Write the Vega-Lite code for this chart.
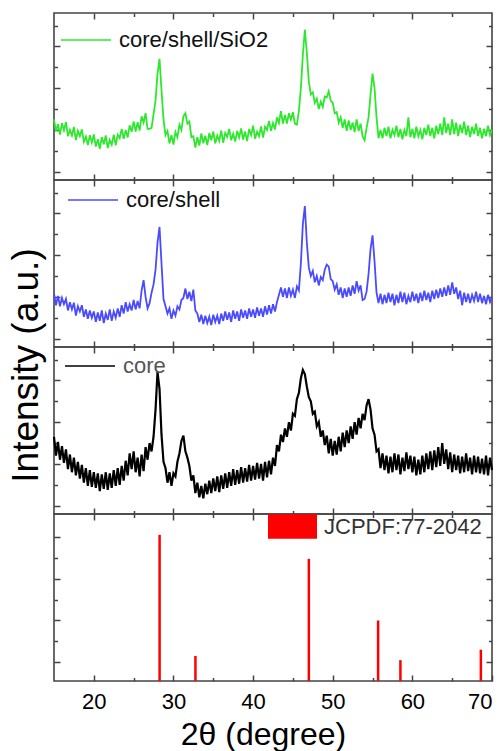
{
"$schema": "https://vega.github.io/schema/vega-lite/v6.json",
"padding": {"left": 6, "top": 11, "right": 0, "bottom": 0},
"spacing": 0,
"bounds": "flush",
"datasets": {
"green": [{"t":15,"i":2.5},{"t":15.25,"i":1.93},{"t":15.5,"i":2.27},{"t":15.75,"i":1.77},{"t":16,"i":2.32},{"t":16.25,"i":1.98},{"t":16.5,"i":2.37},{"t":16.75,"i":1.7},{"t":17,"i":2.0},{"t":17.25,"i":1.73},{"t":17.5,"i":2.14},{"t":17.75,"i":1.51},{"t":18,"i":1.95},{"t":18.25,"i":1.7},{"t":18.5,"i":2.03},{"t":18.75,"i":1.43},{"t":19,"i":1.68},{"t":19.25,"i":1.27},{"t":19.5,"i":1.75},{"t":19.75,"i":1.4},{"t":20,"i":1.78},{"t":20.25,"i":1.2},{"t":20.5,"i":1.55},{"t":20.75,"i":1.09},{"t":21,"i":1.65},{"t":21.25,"i":1.31},{"t":21.5,"i":1.74},{"t":21.75,"i":1.13},{"t":22,"i":1.52},{"t":22.25,"i":1.29},{"t":22.5,"i":1.77},{"t":22.75,"i":1.26},{"t":23,"i":1.77},{"t":23.25,"i":1.61},{"t":23.5,"i":2.05},{"t":23.75,"i":1.57},{"t":24,"i":2.0},{"t":24.25,"i":1.63},{"t":24.5,"i":2.22},{"t":24.75,"i":1.91},{"t":25,"i":2.4},{"t":25.25,"i":1.92},{"t":25.5,"i":2.37},{"t":25.75,"i":1.97},{"t":26,"i":2.65},{"t":26.25,"i":2.35},{"t":26.5,"i":2.8},{"t":26.75,"i":2.05},{"t":27,"i":2.05},{"t":27.25,"i":2.1},{"t":27.5,"i":2.75},{"t":27.75,"i":3.4},{"t":28,"i":4.7},{"t":28.25,"i":5.4},{"t":28.5,"i":3.9},{"t":28.75,"i":2.5},{"t":29,"i":1.75},{"t":29.25,"i":1.95},{"t":29.5,"i":1.35},{"t":29.75,"i":1.75},{"t":30,"i":1.3},{"t":30.25,"i":1.9},{"t":30.5,"i":1.65},{"t":30.75,"i":2.25},{"t":31,"i":2.0},{"t":31.25,"i":2.65},{"t":31.5,"i":2.8},{"t":31.75,"i":2.3},{"t":32,"i":2.4},{"t":32.25,"i":1.65},{"t":32.5,"i":1.7},{"t":32.75,"i":1.15},{"t":33,"i":1.65},{"t":33.25,"i":1.25},{"t":33.5,"i":1.83},{"t":33.75,"i":1.36},{"t":34,"i":1.72},{"t":34.25,"i":1.27},{"t":34.5,"i":1.85},{"t":34.75,"i":1.5},{"t":35,"i":1.92},{"t":35.25,"i":1.35},{"t":35.5,"i":1.73},{"t":35.75,"i":1.47},{"t":36,"i":1.97},{"t":36.25,"i":1.38},{"t":36.5,"i":1.85},{"t":36.75,"i":1.66},{"t":37,"i":2.05},{"t":37.25,"i":1.5},{"t":37.5,"i":1.81},{"t":37.75,"i":1.44},{"t":38,"i":1.95},{"t":38.25,"i":1.64},{"t":38.5,"i":2.07},{"t":38.75,"i":1.53},{"t":39,"i":1.92},{"t":39.25,"i":1.46},{"t":39.5,"i":2.04},{"t":39.75,"i":1.75},{"t":40,"i":2.2},{"t":40.25,"i":1.58},{"t":40.5,"i":1.92},{"t":40.75,"i":1.7},{"t":41,"i":2.17},{"t":41.25,"i":1.63},{"t":41.5,"i":2.15},{"t":41.75,"i":2.0},{"t":42,"i":2.43},{"t":42.25,"i":1.96},{"t":42.5,"i":2.33},{"t":42.75,"i":2.02},{"t":43,"i":2.6},{"t":43.25,"i":2.33},{"t":43.5,"i":2.9},{"t":43.75,"i":2.3},{"t":44,"i":2.72},{"t":44.25,"i":2.3},{"t":44.5,"i":2.8},{"t":44.75,"i":2.5},{"t":45,"i":2.85},{"t":45.25,"i":2.3},{"t":45.5,"i":2.25},{"t":45.75,"i":2.9},{"t":46,"i":4.0},{"t":46.25,"i":5.6},{"t":46.5,"i":6.8},{"t":46.75,"i":5.7},{"t":47,"i":4.3},{"t":47.25,"i":3.7},{"t":47.5,"i":3.8},{"t":47.75,"i":3.3},{"t":48,"i":3.5},{"t":48.25,"i":3.0},{"t":48.5,"i":3.35},{"t":48.75,"i":3.1},{"t":49,"i":3.6},{"t":49.25,"i":3.55},{"t":49.5,"i":3.85},{"t":49.75,"i":3.4},{"t":50,"i":3.3},{"t":50.25,"i":2.8},{"t":50.5,"i":2.85},{"t":50.75,"i":2.35},{"t":51,"i":2.6},{"t":51.25,"i":2.1},{"t":51.5,"i":2.5},{"t":51.75,"i":1.95},{"t":52,"i":2.45},{"t":52.25,"i":2.0},{"t":52.5,"i":2.35},{"t":52.75,"i":1.9},{"t":53,"i":2.5},{"t":53.25,"i":1.95},{"t":53.5,"i":2.3},{"t":53.75,"i":1.7},{"t":54,"i":1.5},{"t":54.25,"i":2.1},{"t":54.5,"i":2.6},{"t":54.75,"i":3.7},{"t":55,"i":4.7},{"t":55.25,"i":4.0},{"t":55.5,"i":2.6},{"t":55.75,"i":1.6},{"t":56,"i":2.0},{"t":56.25,"i":1.6},{"t":56.5,"i":2.1},{"t":56.75,"i":1.7},{"t":57,"i":2.15},{"t":57.25,"i":1.6},{"t":57.5,"i":2.0},{"t":57.75,"i":1.75},{"t":58,"i":2.2},{"t":58.25,"i":1.65},{"t":58.5,"i":2.05},{"t":58.75,"i":1.55},{"t":59,"i":2.0},{"t":59.25,"i":1.7},{"t":59.5,"i":2.6},{"t":59.75,"i":1.65},{"t":60,"i":2.05},{"t":60.25,"i":1.6},{"t":60.5,"i":2.15},{"t":60.75,"i":1.7},{"t":61,"i":2.0},{"t":61.25,"i":1.55},{"t":61.5,"i":2.1},{"t":61.75,"i":1.75},{"t":62,"i":2.25},{"t":62.25,"i":1.7},{"t":62.5,"i":2.1},{"t":62.75,"i":1.6},{"t":63,"i":2.2},{"t":63.25,"i":1.8},{"t":63.5,"i":2.3},{"t":63.75,"i":1.75},{"t":64,"i":2.6},{"t":64.25,"i":1.85},{"t":64.5,"i":2.3},{"t":64.75,"i":1.75},{"t":65,"i":2.5},{"t":65.25,"i":1.8},{"t":65.5,"i":2.35},{"t":65.75,"i":1.7},{"t":66,"i":2.25},{"t":66.25,"i":1.85},{"t":66.5,"i":2.4},{"t":66.75,"i":1.75},{"t":67,"i":2.2},{"t":67.25,"i":1.65},{"t":67.5,"i":2.15},{"t":67.75,"i":1.8},{"t":68,"i":2.3},{"t":68.25,"i":1.7},{"t":68.5,"i":2.1},{"t":68.75,"i":1.6},{"t":69,"i":2.05},{"t":69.25,"i":1.7},{"t":69.5,"i":2.2},{"t":69.75,"i":1.75},{"t":70,"i":2.0}],
"blue": [{"t":15,"i":2.15},{"t":15.25,"i":1.6},{"t":15.5,"i":2.05},{"t":15.75,"i":1.55},{"t":16,"i":1.95},{"t":16.25,"i":1.65},{"t":16.5,"i":1.9},{"t":16.75,"i":1.35},{"t":17,"i":1.75},{"t":17.25,"i":1.4},{"t":17.5,"i":1.72},{"t":17.75,"i":1.1},{"t":18,"i":1.55},{"t":18.25,"i":1.3},{"t":18.5,"i":1.6},{"t":18.75,"i":1.05},{"t":19,"i":1.4},{"t":19.25,"i":0.95},{"t":19.5,"i":1.35},{"t":19.75,"i":1.0},{"t":20,"i":1.3},{"t":20.25,"i":0.8},{"t":20.5,"i":1.25},{"t":20.75,"i":0.85},{"t":21,"i":1.35},{"t":21.25,"i":0.75},{"t":21.5,"i":1.2},{"t":21.75,"i":0.9},{"t":22,"i":1.4},{"t":22.25,"i":0.85},{"t":22.5,"i":1.3},{"t":22.75,"i":1.0},{"t":23,"i":1.45},{"t":23.25,"i":1.05},{"t":23.5,"i":1.6},{"t":23.75,"i":1.2},{"t":24,"i":1.75},{"t":24.25,"i":1.3},{"t":24.5,"i":1.65},{"t":24.75,"i":1.35},{"t":25,"i":1.85},{"t":25.25,"i":1.4},{"t":25.5,"i":1.8},{"t":25.75,"i":1.45},{"t":26,"i":2.3},{"t":26.25,"i":2.8},{"t":26.5,"i":2.0},{"t":26.75,"i":1.45},{"t":27,"i":1.7},{"t":27.25,"i":2.2},{"t":27.5,"i":2.6},{"t":27.75,"i":3.3},{"t":28,"i":4.6},{"t":28.25,"i":5.35},{"t":28.5,"i":3.6},{"t":28.75,"i":1.9},{"t":29,"i":1.55},{"t":29.25,"i":1.2},{"t":29.5,"i":1.45},{"t":29.75,"i":0.95},{"t":30,"i":1.35},{"t":30.25,"i":1.1},{"t":30.5,"i":1.55},{"t":30.75,"i":1.4},{"t":31,"i":1.85},{"t":31.25,"i":1.95},{"t":31.5,"i":2.4},{"t":31.75,"i":1.9},{"t":32,"i":2.25},{"t":32.25,"i":1.8},{"t":32.5,"i":2.35},{"t":32.75,"i":1.35},{"t":33,"i":1.2},{"t":33.25,"i":0.8},{"t":33.5,"i":1.15},{"t":33.75,"i":0.7},{"t":34,"i":1.1},{"t":34.25,"i":0.75},{"t":34.5,"i":1.05},{"t":34.75,"i":0.65},{"t":35,"i":1.15},{"t":35.25,"i":0.8},{"t":35.5,"i":1.1},{"t":35.75,"i":0.7},{"t":36,"i":1.2},{"t":36.25,"i":0.85},{"t":36.5,"i":1.3},{"t":36.75,"i":0.9},{"t":37,"i":1.25},{"t":37.25,"i":0.8},{"t":37.5,"i":1.35},{"t":37.75,"i":0.95},{"t":38,"i":1.3},{"t":38.25,"i":0.85},{"t":38.5,"i":1.4},{"t":38.75,"i":1.0},{"t":39,"i":1.35},{"t":39.25,"i":0.95},{"t":39.5,"i":1.45},{"t":39.75,"i":1.05},{"t":40,"i":1.4},{"t":40.25,"i":1.0},{"t":40.5,"i":1.5},{"t":40.75,"i":1.1},{"t":41,"i":1.45},{"t":41.25,"i":1.05},{"t":41.5,"i":1.55},{"t":41.75,"i":1.15},{"t":42,"i":1.6},{"t":42.25,"i":1.2},{"t":42.5,"i":1.65},{"t":42.75,"i":1.3},{"t":43,"i":1.75},{"t":43.25,"i":2.1},{"t":43.5,"i":2.45},{"t":43.75,"i":2.0},{"t":44,"i":2.4},{"t":44.25,"i":1.95},{"t":44.5,"i":2.45},{"t":44.75,"i":2.05},{"t":45,"i":2.35},{"t":45.25,"i":1.95},{"t":45.5,"i":2.5},{"t":45.75,"i":2.3},{"t":46,"i":3.6},{"t":46.25,"i":5.5},{"t":46.5,"i":6.35},{"t":46.75,"i":4.6},{"t":47,"i":3.4},{"t":47.25,"i":3.0},{"t":47.5,"i":3.25},{"t":47.75,"i":2.7},{"t":48,"i":3.0},{"t":48.25,"i":2.55},{"t":48.5,"i":2.95},{"t":48.75,"i":2.8},{"t":49,"i":3.3},{"t":49.25,"i":3.55},{"t":49.5,"i":3.45},{"t":49.75,"i":2.85},{"t":50,"i":2.75},{"t":50.25,"i":2.35},{"t":50.5,"i":2.6},{"t":50.75,"i":2.1},{"t":51,"i":2.45},{"t":51.25,"i":1.95},{"t":51.5,"i":2.4},{"t":51.75,"i":2.0},{"t":52,"i":2.45},{"t":52.25,"i":2.05},{"t":52.5,"i":2.55},{"t":52.75,"i":2.15},{"t":53,"i":2.75},{"t":53.25,"i":2.3},{"t":53.5,"i":2.55},{"t":53.75,"i":1.85},{"t":54,"i":1.9},{"t":54.25,"i":2.25},{"t":54.5,"i":3.1},{"t":54.75,"i":4.3},{"t":55,"i":4.95},{"t":55.25,"i":3.7},{"t":55.5,"i":2.2},{"t":55.75,"i":1.7},{"t":56,"i":2.15},{"t":56.25,"i":1.65},{"t":56.5,"i":2.1},{"t":56.75,"i":1.7},{"t":57,"i":2.2},{"t":57.25,"i":1.75},{"t":57.5,"i":2.15},{"t":57.75,"i":1.6},{"t":58,"i":2.1},{"t":58.25,"i":1.7},{"t":58.5,"i":2.25},{"t":58.75,"i":1.75},{"t":59,"i":2.2},{"t":59.25,"i":1.65},{"t":59.5,"i":2.05},{"t":59.75,"i":1.75},{"t":60,"i":2.25},{"t":60.25,"i":1.8},{"t":60.5,"i":2.15},{"t":60.75,"i":1.7},{"t":61,"i":2.2},{"t":61.25,"i":1.8},{"t":61.5,"i":2.3},{"t":61.75,"i":1.85},{"t":62,"i":2.2},{"t":62.25,"i":1.75},{"t":62.5,"i":2.3},{"t":62.75,"i":1.9},{"t":63,"i":2.35},{"t":63.25,"i":1.95},{"t":63.5,"i":2.4},{"t":63.75,"i":2.0},{"t":64,"i":2.45},{"t":64.25,"i":2.05},{"t":64.5,"i":2.55},{"t":64.75,"i":2.1},{"t":65,"i":2.7},{"t":65.25,"i":2.15},{"t":65.5,"i":2.45},{"t":65.75,"i":1.9},{"t":66,"i":2.3},{"t":66.25,"i":1.6},{"t":66.5,"i":2.2},{"t":66.75,"i":1.75},{"t":67,"i":2.15},{"t":67.25,"i":1.7},{"t":67.5,"i":2.1},{"t":67.75,"i":1.8},{"t":68,"i":2.25},{"t":68.25,"i":1.75},{"t":68.5,"i":2.15},{"t":68.75,"i":1.7},{"t":69,"i":2.05},{"t":69.25,"i":1.65},{"t":69.5,"i":2.1},{"t":69.75,"i":1.75},{"t":70,"i":2.0}],
"black": [{"t":15,"i":3.3},{"t":15.25,"i":2.4},{"t":15.5,"i":3.05},{"t":15.75,"i":2.2},{"t":16,"i":2.85},{"t":16.25,"i":2.05},{"t":16.5,"i":2.7},{"t":16.75,"i":1.75},{"t":17,"i":2.45},{"t":17.25,"i":1.6},{"t":17.5,"i":2.3},{"t":17.75,"i":1.45},{"t":18,"i":2.1},{"t":18.25,"i":1.3},{"t":18.5,"i":1.95},{"t":18.75,"i":1.1},{"t":19,"i":1.8},{"t":19.25,"i":0.95},{"t":19.5,"i":1.7},{"t":19.75,"i":0.9},{"t":20,"i":1.6},{"t":20.25,"i":0.85},{"t":20.5,"i":1.55},{"t":20.75,"i":0.7},{"t":21,"i":1.5},{"t":21.25,"i":0.8},{"t":21.5,"i":1.6},{"t":21.75,"i":0.75},{"t":22,"i":1.55},{"t":22.25,"i":0.85},{"t":22.5,"i":1.7},{"t":22.75,"i":0.95},{"t":23,"i":1.8},{"t":23.25,"i":1.0},{"t":23.5,"i":1.9},{"t":23.75,"i":1.2},{"t":24,"i":2.15},{"t":24.25,"i":1.45},{"t":24.5,"i":2.5},{"t":24.75,"i":1.75},{"t":25,"i":2.6},{"t":25.25,"i":1.6},{"t":25.5,"i":2.3},{"t":25.75,"i":1.4},{"t":26,"i":2.45},{"t":26.25,"i":1.65},{"t":26.5,"i":2.8},{"t":26.75,"i":2.2},{"t":27,"i":3.0},{"t":27.25,"i":2.6},{"t":27.5,"i":3.3},{"t":27.75,"i":4.6},{"t":28,"i":6.4},{"t":28.25,"i":5.6},{"t":28.5,"i":3.4},{"t":28.75,"i":2.1},{"t":29,"i":1.8},{"t":29.25,"i":1.1},{"t":29.5,"i":1.6},{"t":29.75,"i":0.95},{"t":30,"i":1.55},{"t":30.25,"i":1.4},{"t":30.5,"i":2.1},{"t":30.75,"i":2.5},{"t":31,"i":3.1},{"t":31.25,"i":3.35},{"t":31.5,"i":2.6},{"t":31.75,"i":2.3},{"t":32,"i":1.9},{"t":32.25,"i":1.2},{"t":32.5,"i":1.45},{"t":32.75,"i":0.6},{"t":33,"i":1.1},{"t":33.25,"i":0.4},{"t":33.5,"i":0.95},{"t":33.75,"i":0.35},{"t":34,"i":1.05},{"t":34.25,"i":0.55},{"t":34.5,"i":1.2},{"t":34.75,"i":0.6},{"t":35,"i":1.3},{"t":35.25,"i":0.7},{"t":35.5,"i":1.4},{"t":35.75,"i":0.65},{"t":36,"i":1.45},{"t":36.25,"i":0.8},{"t":36.5,"i":1.55},{"t":36.75,"i":0.85},{"t":37,"i":1.6},{"t":37.25,"i":0.95},{"t":37.5,"i":1.75},{"t":37.75,"i":1.0},{"t":38,"i":1.7},{"t":38.25,"i":1.05},{"t":38.5,"i":1.85},{"t":38.75,"i":1.1},{"t":39,"i":1.8},{"t":39.25,"i":1.15},{"t":39.5,"i":1.95},{"t":39.75,"i":1.2},{"t":40,"i":1.9},{"t":40.25,"i":1.25},{"t":40.5,"i":2.05},{"t":40.75,"i":1.3},{"t":41,"i":2.0},{"t":41.25,"i":1.2},{"t":41.5,"i":2.1},{"t":41.75,"i":1.35},{"t":42,"i":2.15},{"t":42.25,"i":1.5},{"t":42.5,"i":2.3},{"t":42.75,"i":1.9},{"t":43,"i":2.9},{"t":43.25,"i":2.6},{"t":43.5,"i":3.4},{"t":43.75,"i":3.05},{"t":44,"i":3.7},{"t":44.25,"i":3.3},{"t":44.5,"i":4.0},{"t":44.75,"i":3.6},{"t":45,"i":4.4},{"t":45.25,"i":4.3},{"t":45.5,"i":5.1},{"t":45.75,"i":5.4},{"t":46,"i":6.1},{"t":46.25,"i":6.5},{"t":46.5,"i":6.3},{"t":46.75,"i":5.7},{"t":47,"i":5.2},{"t":47.25,"i":5.0},{"t":47.5,"i":4.4},{"t":47.75,"i":4.5},{"t":48,"i":3.8},{"t":48.25,"i":4.0},{"t":48.5,"i":3.3},{"t":48.75,"i":3.6},{"t":49,"i":2.9},{"t":49.25,"i":3.35},{"t":49.5,"i":2.5},{"t":49.75,"i":3.2},{"t":50,"i":2.4},{"t":50.25,"i":3.1},{"t":50.5,"i":2.45},{"t":50.75,"i":3.3},{"t":51,"i":2.6},{"t":51.25,"i":3.5},{"t":51.5,"i":2.8},{"t":51.75,"i":3.6},{"t":52,"i":3.0},{"t":52.25,"i":3.8},{"t":52.5,"i":3.2},{"t":52.75,"i":4.0},{"t":53,"i":3.4},{"t":53.25,"i":4.2},{"t":53.5,"i":3.7},{"t":53.75,"i":4.4},{"t":54,"i":4.1},{"t":54.25,"i":4.8},{"t":54.5,"i":5.1},{"t":54.75,"i":4.6},{"t":55,"i":3.7},{"t":55.25,"i":3.4},{"t":55.5,"i":2.6},{"t":55.75,"i":2.7},{"t":56,"i":1.8},{"t":56.25,"i":2.5},{"t":56.5,"i":1.7},{"t":56.75,"i":2.4},{"t":57,"i":1.55},{"t":57.25,"i":2.35},{"t":57.5,"i":1.6},{"t":57.75,"i":2.5},{"t":58,"i":1.7},{"t":58.25,"i":2.45},{"t":58.5,"i":1.5},{"t":58.75,"i":2.3},{"t":59,"i":1.65},{"t":59.25,"i":2.55},{"t":59.5,"i":1.75},{"t":59.75,"i":2.4},{"t":60,"i":1.6},{"t":60.25,"i":2.35},{"t":60.5,"i":1.45},{"t":60.75,"i":2.2},{"t":61,"i":1.5},{"t":61.25,"i":2.4},{"t":61.5,"i":1.6},{"t":61.75,"i":2.5},{"t":62,"i":1.75},{"t":62.25,"i":2.6},{"t":62.5,"i":1.7},{"t":62.75,"i":2.65},{"t":63,"i":1.85},{"t":63.25,"i":2.8},{"t":63.5,"i":1.9},{"t":63.75,"i":3.0},{"t":64,"i":2.0},{"t":64.25,"i":2.7},{"t":64.5,"i":1.75},{"t":64.75,"i":2.55},{"t":65,"i":1.6},{"t":65.25,"i":2.45},{"t":65.5,"i":1.7},{"t":65.75,"i":2.4},{"t":66,"i":1.55},{"t":66.25,"i":2.35},{"t":66.5,"i":1.6},{"t":66.75,"i":2.5},{"t":67,"i":1.65},{"t":67.25,"i":2.3},{"t":67.5,"i":1.5},{"t":67.75,"i":2.4},{"t":68,"i":1.6},{"t":68.25,"i":2.35},{"t":68.5,"i":1.55},{"t":68.75,"i":2.25},{"t":69,"i":1.5},{"t":69.25,"i":2.4},{"t":69.5,"i":1.45},{"t":69.75,"i":2.3},{"t":70,"i":1.7}],
"ref": [{"t":28.26,"i":140},{"t":32.76,"i":24},{"t":47.0,"i":117},{"t":55.7,"i":58},{"t":58.5,"i":20},{"t":68.6,"i":30}]
},
"vconcat": [
{
"width": 438, "height": 167,
"layer": [
{"data": {"name": "green"}, "mark": {"type": "line", "color": "#1ee61e", "strokeWidth": 1.8},
 "encoding": {
  "x": {"field": "t", "type": "quantitative", "scale": {"domain": [15, 70], "nice": false, "zero": false},
        "axis": {"orient": "bottom", "title": null, "labels": false, "values": [20,25,30,35,40,45,50,55,60,65], "tickSize": {"condition": {"test": "datum.value % 10 === 0", "value": -6}, "value": -3.5}}},
  "y": {"field": "i", "type": "quantitative", "scale": {"domain": [-0.4, 7.6], "nice": false, "zero": false},
        "axis": {"orient": "left", "title": null, "labels": false, "values": [0,1,2,3,4,5,6,7], "tickSize": {"condition": {"test": "datum.value % 2 === 0", "value": -6}, "value": -3.5}}},
  "color": {"datum": "core/shell/SiO2", "type": "nominal", "scale": {"range": ["#2ee82e"]}, "legend": {"title": null, "legendX": 6, "legendY": 1}}
 }},
{"data": {"name": "green"}, "mark": {"type": "line", "opacity": 0},
 "encoding": {
  "x": {"field": "t", "type": "quantitative", "scale": {"domain": [15, 70], "nice": false, "zero": false},
        "axis": {"orient": "top", "title": null, "labels": false, "values": [20,25,30,35,40,45,50,55,60,65], "tickSize": {"condition": {"test": "datum.value % 10 === 0", "value": -6}, "value": -3.5}}},
  "y": {"field": "i", "type": "quantitative", "scale": {"domain": [-0.4, 7.6], "nice": false, "zero": false},
        "axis": {"orient": "right", "title": null, "labels": false, "values": [0,1,2,3,4,5,6,7], "tickSize": {"condition": {"test": "datum.value % 2 === 0", "value": -6}, "value": -3.5}}}
 }}
],
"resolve": {"axis": {"x": "independent", "y": "independent"}}
},
{
"width": 438, "height": 167,
"layer": [
{"data": {"name": "blue"}, "mark": {"type": "line", "color": "#1a1aff", "strokeWidth": 1.8},
 "encoding": {
  "x": {"field": "t", "type": "quantitative", "scale": {"domain": [15, 70], "nice": false, "zero": false},
        "axis": {"orient": "bottom", "title": null, "labels": false, "values": [20,25,30,35,40,45,50,55,60,65], "tickSize": {"condition": {"test": "datum.value % 10 === 0", "value": -6}, "value": -3.5}}},
  "y": {"field": "i", "type": "quantitative", "scale": {"domain": [-0.4, 7.6], "nice": false, "zero": false},
        "axis": {"orient": "left", "title": "Intensity (a.u.)", "titleX": -17, "titleY": 185, "titleAngle": 270, "titleAlign": "center", "titleBaseline": "alphabetic", "titleFontSize": 37, "titleFontWeight": "normal", "titleColor": "#000", "labels": false, "values": [0,1,2,3,4,5,6,7], "tickSize": {"condition": {"test": "datum.value % 2 === 0", "value": -6}, "value": -3.5}}},
  "color": {"datum": "core/shell", "type": "nominal", "scale": {"range": ["#4a4aff"]}, "legend": {"title": null, "legendX": 13, "legendY": -6}}
 }},
{"data": {"name": "blue"}, "mark": {"type": "line", "opacity": 0},
 "encoding": {
  "x": {"field": "t", "type": "quantitative", "scale": {"domain": [15, 70], "nice": false, "zero": false},
        "axis": {"orient": "top", "title": null, "labels": false, "values": [20,25,30,35,40,45,50,55,60,65], "tickSize": {"condition": {"test": "datum.value % 10 === 0", "value": -6}, "value": -3.5}}},
  "y": {"field": "i", "type": "quantitative", "scale": {"domain": [-0.4, 7.6], "nice": false, "zero": false},
        "axis": {"orient": "right", "title": null, "labels": false, "values": [0,1,2,3,4,5,6,7], "tickSize": {"condition": {"test": "datum.value % 2 === 0", "value": -6}, "value": -3.5}}}
 }}
],
"resolve": {"axis": {"x": "independent", "y": "independent"}}
},
{
"width": 438, "height": 167,
"layer": [
{"data": {"name": "black"}, "mark": {"type": "line", "color": "#000000", "strokeWidth": 2.2},
 "encoding": {
  "x": {"field": "t", "type": "quantitative", "scale": {"domain": [15, 70], "nice": false, "zero": false},
        "axis": {"orient": "bottom", "title": null, "labels": false, "values": [20,25,30,35,40,45,50,55,60,65], "tickSize": {"condition": {"test": "datum.value % 10 === 0", "value": -6}, "value": -3.5}}},
  "y": {"field": "i", "type": "quantitative", "scale": {"domain": [-0.4, 7.6], "nice": false, "zero": false},
        "axis": {"orient": "left", "title": null, "labels": false, "values": [0,1,2,3,4,5,6,7], "tickSize": {"condition": {"test": "datum.value % 2 === 0", "value": -6}, "value": -3.5}}},
  "color": {"datum": "core", "type": "nominal", "scale": {"range": ["#000000"]}, "legend": {"title": null, "legendX": 10, "legendY": -7, "labelColor": "#555", "encode": {"symbols": {"update": {"stroke": {"value": "#777"}}}}}}
 }},
{"data": {"name": "black"}, "mark": {"type": "line", "opacity": 0},
 "encoding": {
  "x": {"field": "t", "type": "quantitative", "scale": {"domain": [15, 70], "nice": false, "zero": false},
        "axis": {"orient": "top", "title": null, "labels": false, "values": [20,25,30,35,40,45,50,55,60,65], "tickSize": {"condition": {"test": "datum.value % 10 === 0", "value": -6}, "value": -3.5}}},
  "y": {"field": "i", "type": "quantitative", "scale": {"domain": [-0.4, 7.6], "nice": false, "zero": false},
        "axis": {"orient": "right", "title": null, "labels": false, "values": [0,1,2,3,4,5,6,7], "tickSize": {"condition": {"test": "datum.value % 2 === 0", "value": -6}, "value": -3.5}}}
 }}
],
"resolve": {"axis": {"x": "independent", "y": "independent"}}
},
{
"width": 438, "height": 167,
"layer": [
{"data": {"name": "ref"}, "mark": {"type": "rule", "color": "#ff0000", "strokeWidth": 2.5},
 "encoding": {
  "x": {"field": "t", "type": "quantitative", "scale": {"domain": [15, 70], "nice": false, "zero": false},
        "axis": {"orient": "bottom", "title": "2θ (degree)", "titleFontSize": 32, "titleFontWeight": "normal", "titleColor": "#000", "titleX": 209, "titleY": 63, "titleBaseline": "alphabetic", "titleAlign": "center",
                 "labels": true, "labelFontSize": 22, "labelColor": "#000", "labelPadding": 16, "labelExpr": "datum.value % 10 === 0 ? datum.label : ''",
                 "values": [20,25,30,35,40,45,50,55,60,65,70], "tickSize": {"condition": {"test": "datum.value % 10 === 0", "value": -6}, "value": -3.5}}},
  "y": {"field": "i", "type": "quantitative", "scale": {"domain": [0, 160], "nice": false, "zero": false},
        "axis": {"orient": "left", "title": null, "labels": false, "values": [18,38,58,78,98,118,138], "tickSize": {"condition": {"test": "(datum.value - 18) % 40 === 0", "value": -6}, "value": -3.5}}},
  "y2": {"datum": 0},
  "color": {"datum": "JCPDF:77-2042", "type": "nominal", "scale": {"range": ["#ff0000"]}, "legend": {"title": null, "legendX": 214, "legendY": -12, "symbolType": "M-1,-0.5H1V0.5H-1Z", "symbolSize": 2401, "labelColor": "#333", "encode": {"symbols": {"update": {"fill": {"value": "#ff0000"}, "stroke": {"value": "#ff0000"}, "strokeWidth": {"value": 0}}}}}}
 }},
{"data": {"name": "ref"}, "mark": {"type": "rule", "opacity": 0},
 "encoding": {
  "x": {"field": "t", "type": "quantitative", "scale": {"domain": [15, 70], "nice": false, "zero": false},
        "axis": {"orient": "top", "title": null, "labels": false, "values": [20,25,30,35,40,45,50,55,60,65], "tickSize": {"condition": {"test": "datum.value % 10 === 0", "value": -6}, "value": -3.5}}},
  "y": {"field": "i", "type": "quantitative", "scale": {"domain": [0, 160], "nice": false, "zero": false},
        "axis": {"orient": "right", "title": null, "labels": false, "values": [18,38,58,78,98,118,138], "tickSize": {"condition": {"test": "(datum.value - 18) % 40 === 0", "value": -6}, "value": -3.5}}}
 }}
],
"resolve": {"axis": {"x": "independent", "y": "independent"}}
}
],
"resolve": {"scale": {"color": "independent"}, "legend": {"color": "independent"}},
"config": {
 "font": "Liberation Sans",
 "view": {"stroke": "#444444", "strokeWidth": 1.6},
 "axis": {"domain": false, "grid": false, "tickColor": "#444444", "tickWidth": 1.5, "labelFont": "Liberation Sans", "titleFont": "Liberation Sans"},
 "legend": {"orient": "none", "padding": 0, "symbolType": "stroke", "symbolSize": 2500, "symbolStrokeWidth": 1.5, "labelFont": "Liberation Sans", "labelFontSize": 22, "labelColor": "#111111", "labelOffset": 7}
}
}
